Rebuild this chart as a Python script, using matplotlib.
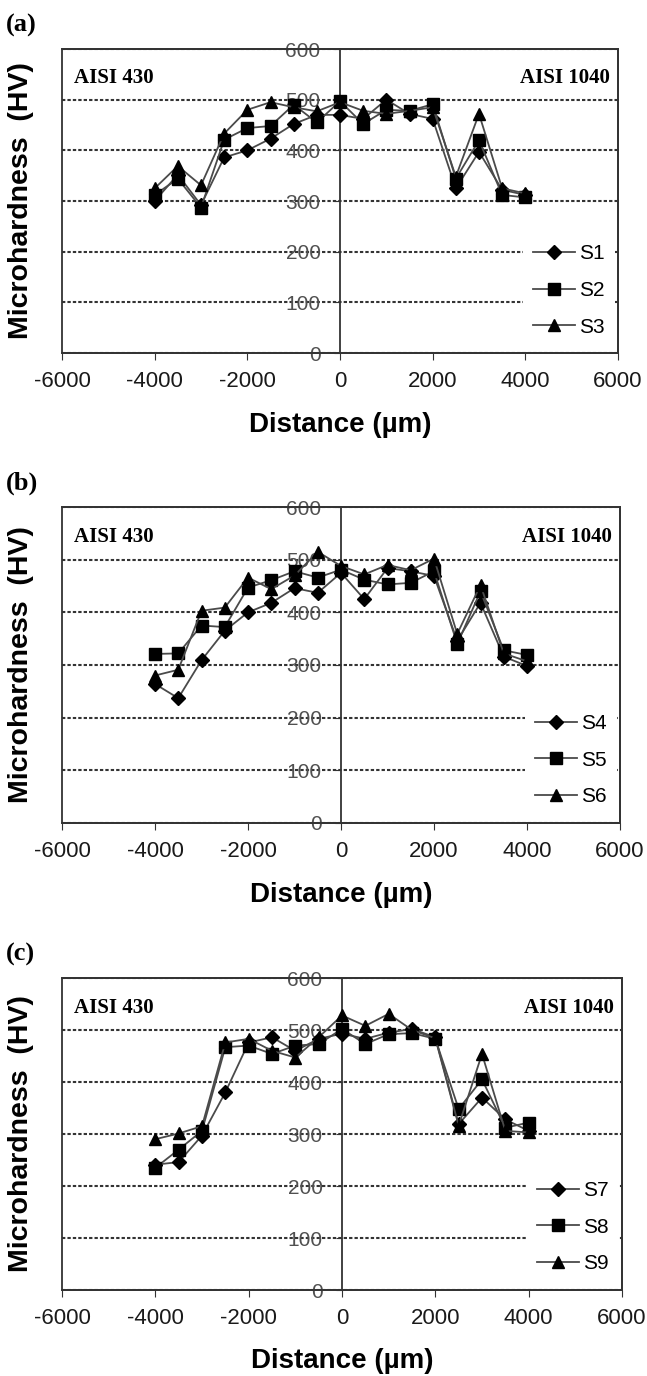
import matplotlib
matplotlib.use('Agg')
import matplotlib.pyplot as plt
from matplotlib import font_manager as fm

plt.rcParams['axes.unicode_minus'] = False


def find_narrow(bold=False):
    for f in fm.fontManager.ttflist:
        name = f.fname.replace(' ', '')
        if 'LiberationSansNarrow' in name or 'ArialNarrow' in name or 'ARIALN' in name:
            isbold = 'Bold' in name or 'ARIALNB' in name
            if isbold == bold and 'Italic' not in name:
                return f.fname
    return None


narrow_reg = find_narrow(False)
narrow_bold = find_narrow(True)
if narrow_reg:
    FP_TICK = dict(fname=narrow_reg)
    TICKX, TICKY, LEGSZ = 18, 17, 17
else:
    FP_TICK = dict(family='Liberation Sans')
    TICKX, TICKY, LEGSZ = 16, 15, 15
if narrow_bold:
    FP_XLAB = dict(fname=narrow_bold)
    XLABSZ = 23
else:
    FP_XLAB = dict(family='Liberation Sans', weight='bold')
    XLABSZ = 20
SANS = 'Liberation Sans'
SERIF = 'Liberation Serif'

# ---------------- data ----------------
distance = [-4000, -3500, -3000, -2500, -2000, -1500, -1000, -500, 0,
            500, 1000, 1500, 2000, 2500, 3000, 3500, 4000]

S1 = [300, 352, 292, 386, 400, 423, 452, 470, 470, 462, 500, 472, 462, 325, 397, 322, 312]
S2 = [312, 344, 287, 421, 444, 448, 490, 455, 497, 452, 480, 478, 491, 344, 420, 312, 307]
S3 = [325, 369, 331, 433, 480, 495, 485, 477, 495, 478, 472, 478, 485, 348, 472, 325, 315]

S4 = [264, 237, 309, 365, 400, 418, 446, 437, 475, 425, 484, 478, 469, 346, 418, 316, 298]
S5 = [321, 322, 375, 372, 447, 461, 478, 466, 481, 462, 453, 456, 478, 340, 440, 328, 319]
S6 = [280, 291, 403, 409, 466, 444, 470, 515, 488, 472, 490, 480, 502, 359, 452, 322, 307]

S7 = [241, 246, 297, 380, 476, 486, 460, 483, 493, 483, 495, 502, 486, 319, 370, 328, 306]
S8 = [235, 270, 306, 467, 470, 454, 470, 473, 502, 473, 492, 494, 483, 348, 405, 312, 322]
S9 = [290, 301, 315, 476, 483, 460, 447, 486, 528, 508, 531, 500, 484, 316, 454, 306, 303]

panel_labels = ['(a)', '(b)', '(c)']
series_names = [['S1', 'S2', 'S3'], ['S4', 'S5', 'S6'], ['S7', 'S8', 'S9']]
series_values = [[S1, S2, S3], [S4, S5, S6], [S7, S8, S9]]
x_ticks = [-6000, -4000, -2000, 0, 2000, 4000, 6000]
y_ticks = [0, 100, 200, 300, 400, 500, 600]
left_material = 'AISI 430'
right_material = 'AISI 1040'
x_label = 'Distance (µm)'
y_label = 'Microhardness  (HV)'

# ---------------- layout ----------------
W, H = 647, 1376
fig = plt.figure(figsize=(W / 100, H / 100), dpi=100)

# pixel boxes: left, right, top, bottom
boxes = [(62, 618, 49, 353), (62, 620, 507, 823), (62, 622, 978, 1290)]
markers = ['D', 's', '^']
msizes = [6.8, 8.3, 8.8]

for i, (l, r, t, b) in enumerate(boxes):
    ax = fig.add_axes([l / W, 1 - b / H, (r - l) / W, (b - t) / H])
    ax.set_xlim(-6000, 6000)
    ax.set_ylim(0, 600)

    # grid
    ax.set_yticks(y_ticks)
    ax.yaxis.grid(True, linestyle=(0, (1.6, 1.0)), color='#333333', linewidth=1.5, zorder=0)
    ax.set_axisbelow(True)

    # y-axis positioned at distance 0 (Excel style)
    ax.spines['left'].set_position(('data', 0))
    for s in ['left', 'top', 'right', 'bottom']:
        ax.spines[s].set_color('#333333')
        ax.spines[s].set_linewidth(1.3)
    ax.patch.set_edgecolor('#333333')
    ax.patch.set_linewidth(1.3)

    ax.tick_params(axis='y', direction='out', length=4, pad=10,
                   labelcolor='#505050', color='#333333')
    ax.set_xticks(x_ticks)
    ax.tick_params(axis='x', direction='out', length=5, pad=8,
                   labelcolor='#1a1a1a', color='#333333')
    for lab in ax.get_xticklabels():
        lab.set_fontproperties(fm.FontProperties(size=TICKX, **FP_TICK))
    for lab in ax.get_yticklabels():
        lab.set_fontproperties(fm.FontProperties(size=TICKY, **FP_TICK))

    handles = []
    for vals, name, m, ms in zip(series_values[i], series_names[i], markers, msizes):
        h, = ax.plot(distance, vals, color='#4a4a4a', linewidth=1.3, marker=m,
                     markersize=ms, markerfacecolor='black', markeredgecolor='black',
                     label=name, zorder=3)
        handles.append(h)

    leg = ax.legend(handles=handles, loc='lower right', bbox_to_anchor=(0.995, 0.02),
                    frameon=True, fancybox=False, framealpha=1, facecolor='white',
                    edgecolor='none', handlelength=2.0, handletextpad=0.2,
                    labelspacing=0.85, borderpad=0.5, borderaxespad=0.0,
                    prop=fm.FontProperties(size=LEGSZ, **FP_TICK))
    leg.set_zorder(5)

    ax.text(0.022, 0.905, left_material, transform=ax.transAxes, family=SERIF,
            fontweight='bold', fontsize=15, ha='left', va='center')
    ax.text(0.985, 0.905, right_material, transform=ax.transAxes, family=SERIF,
            fontweight='bold', fontsize=15, ha='right', va='center')

    ax.set_xlabel(x_label, fontproperties=fm.FontProperties(size=XLABSZ, **FP_XLAB),
                  labelpad=14)
    ax.set_ylabel(y_label, family=SANS, fontweight='bold', fontsize=20.5)
    ax.yaxis.set_label_coords(-0.05, 0.5)

    fig.text(6 / W, 1 - (t - 24) / H, panel_labels[i], family=SERIF,
             fontweight='bold', fontsize=19, ha='left', va='center')

fig.savefig('out.png', dpi=100)
